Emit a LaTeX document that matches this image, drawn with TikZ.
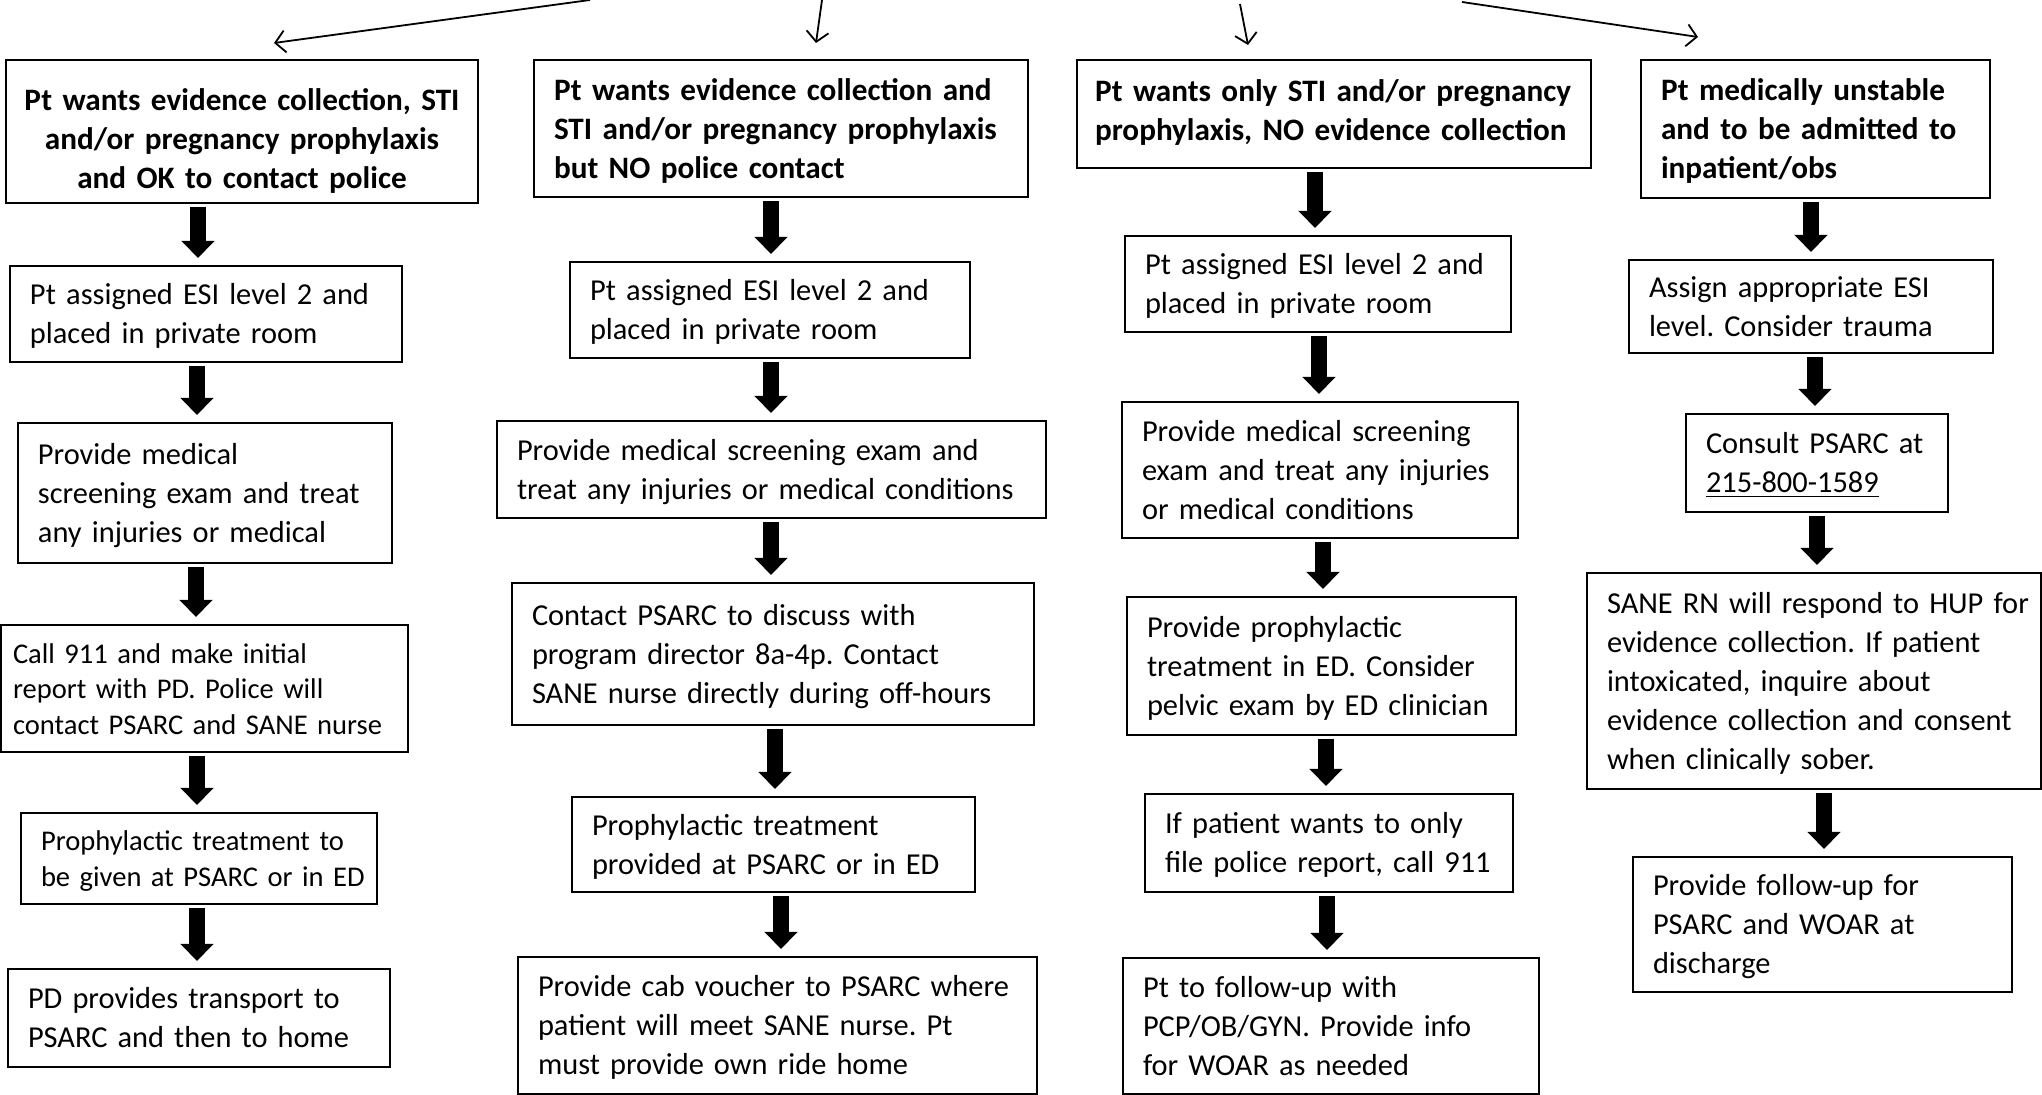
\documentclass[tikz,border=0pt]{standalone}
\usepackage{fontspec}
\setmainfont{Carlito}
\usetikzlibrary{arrows.meta}
\frenchspacing

\begin{document}
\begin{tikzpicture}[
  x=0.5pt, y=-0.5pt,
  struts/.style 2 args={
    execute at begin node={\hyphenpenalty=10000\exhyphenpenalty=10000\rule{0pt}{#1}},
    execute at end node={\rule[-#2]{0pt}{0pt}}},
  pbox/.style={draw, line width=1pt, anchor=north west, align=left,
               inner xsep=10pt, inner ysep=0pt, outer sep=0pt,
               font=\fontsize{15.2}{19.5}\selectfont, struts={14.5pt}{4.1pt}},
  hbox/.style={pbox, font=\fontsize{15.6}{19.5}\selectfont\bfseries, struts={14.85pt}{4.2pt}},
  sbox/.style={pbox, font=\fontsize{14.27}{17.9}\selectfont, struts={13.6pt}{3.85pt}},
  blk/.style={line width=8pt, -{Triangle[length=8.5pt, width=16pt]},
              shorten <=2pt, shorten >=4pt},
  harr/.style={line width=0.9pt, -{Straight Barb[length=5pt, width=11pt]}}
]
  \useasboundingbox (0,0) rectangle (2042,1095);

  % - Hang tren: bon truong hop -
  \node[hbox, align=center, inner xsep=8pt, text width=220pt, minimum height=71.5pt, struts={22.6pt}{4.2pt}] (police) at (6,60)
    {Pt wants evidence collection, STI\\and/or pregnancy prophylaxis\\and OK to contact police};
  \node[hbox, text width=227pt, minimum height=68.5pt] (nopol) at (534,60)
    {Pt wants evidence collection and\\STI and/or pregnancy prophylaxis\\but NO police contact};
  \node[hbox, inner xsep=9pt, text width=239pt, minimum height=54pt, struts={14.85pt}{7.4pt}] (only) at (1077,60)
    {Pt wants only STI and/or pregnancy\\prophylaxis, NO evidence collection};
  \node[hbox, text width=154.5pt, minimum height=69pt] (unst) at (1641,60)
    {Pt medically unstable\\and to be admitted to\\inpatient/obs};

  % - Cot 1 -
  \node[pbox, text width=176pt, minimum height=48pt] (pesi) at (10,266)
    {Pt assigned ESI level 2 and\\placed in private room};
  \node[pbox, text width=167pt, minimum height=70pt] (pexam) at (18,423)
    {Provide medical\\screening exam and treat\\any injuries or medical};
  \node[sbox, inner xsep=6pt, text width=191.5pt, minimum height=63.5pt] (pcall) at (1,625)
    {Call 911 and make initial\\report with PD. Police will\\contact PSARC and SANE nurse};
  \node[sbox, text width=158pt, minimum height=45.5pt] (pproph) at (21,813)
    {Prophylactic treatment to\\\mbox{be given at PSARC or in ED}};
  \node[pbox, text width=171pt, minimum height=49pt] (ptrans) at (8,969)
    {PD provides transport to\\PSARC and then to home};

  % - Cot 2 -
  \node[pbox, text width=180pt, minimum height=48pt] (nesi) at (570,262)
    {Pt assigned ESI level 2 and\\placed in private room};
  \node[pbox, text width=254.5pt, minimum height=48.5pt] (nexam) at (497,421)
    {Provide medical screening exam and\\treat any injuries or medical conditions};
  \node[pbox, text width=241pt, minimum height=71pt] (ncontact) at (512,583)
    {Contact PSARC to discuss with\\program director 8a-4p. Contact\\SANE nurse directly during off-hours};
  \node[pbox, text width=181.5pt, minimum height=47.5pt] (nproph) at (572,797)
    {Prophylactic treatment\\provided at PSARC or in ED};
  \node[pbox, text width=239.5pt, minimum height=68.5pt] (ncab) at (518,957)
    {Provide cab voucher to PSARC where\\patient will meet SANE nurse. Pt\\must provide own ride home};

  % - Cot 3 -
  \node[pbox, text width=173pt, minimum height=48pt] (oesi) at (1125,236)
    {Pt assigned ESI level 2 and\\placed in private room};
  \node[pbox, text width=178pt, minimum height=68pt] (oexam) at (1122,402)
    {Provide medical screening\\exam and treat any injuries\\or medical conditions};
  \node[pbox, text width=174.5pt, minimum height=69pt] (oproph) at (1127,597)
    {Provide prophylactic\\treatment in ED. Consider\\pelvic exam by ED clinician};
  \node[pbox, text width=164pt, minimum height=49pt] (oreport) at (1145,794)
    {If patient wants to only\\file police report, call 911};
  \node[pbox, text width=188pt, minimum height=68pt] (ofollow) at (1123,958)
    {Pt to follow-up with\\PCP/OB/GYN. Provide info\\for WOAR as needed};

  % - Cot 4 -
  \node[pbox, text width=162pt, minimum height=46.5pt] (uesi) at (1629,260)
    {Assign appropriate ESI\\level. Consider trauma};
  \node[pbox, text width=111pt, minimum height=49pt] (upsarc) at (1686,414)
    {Consult PSARC at\\\underline{215-800-1589}};
  \node[pbox, text width=207pt, minimum height=108pt] (usane) at (1587,573)
    {\mbox{SANE RN will respond to HUP for}\\evidence collection. If patient\\intoxicated, inquire about\\evidence collection and consent\\when clinically sober.};
  \node[pbox, text width=169.5pt, minimum height=67.5pt] (ufollow) at (1633,857)
    {Provide follow-up for\\PSARC and WOAR at\\discharge};

  % - Mui ten tren -
  \coordinate (src1) at (590,0);
  \coordinate (src2) at (822,0);
  \coordinate (src3) at (1240,4);
  \coordinate (src4) at (1462,2);
  \draw[harr] (src1) -- ([xshift=16pt, yshift=8.5pt]police.north);
  \draw[harr] (src2) -- ([xshift=17.5pt, yshift=8.5pt]nopol.north);
  \draw[harr] (src3) -- ([xshift=-43pt, yshift=7.5pt]only.north);
  \draw[harr] (src4) -- ([xshift=-58.75pt, yshift=11.5pt]unst.north);

  % - Mui ten dam -
  \draw[blk] (police.south -| 198,0) -- (pesi.north -| 198,0);
  \draw[blk] (pesi.south -| 197,0)   -- (pexam.north -| 197,0);
  \draw[blk] (pexam.south -| 196,0)  -- (pcall.north -| 196,0);
  \draw[blk] (pcall.south -| 197,0)  -- (pproph.north -| 197,0);
  \draw[blk] (pproph.south -| 197,0) -- (ptrans.north -| 197,0);

  \draw[blk] (nopol.south -| 771,0)    -- (nesi.north -| 771,0);
  \draw[blk] (nesi.south -| 771,0)     -- (nexam.north -| 771,0);
  \draw[blk] (nexam.south -| 771,0)    -- (ncontact.north -| 771,0);
  \draw[blk] (ncontact.south -| 775,0) -- (nproph.north -| 775,0);
  \draw[blk] (nproph.south -| 781,0)   -- (ncab.north -| 781,0);

  \draw[blk] (only.south -| 1315,0)    -- (oesi.north -| 1315,0);
  \draw[blk] (oesi.south -| 1319,0)    -- (oexam.north -| 1319,0);
  \draw[blk] (oexam.south -| 1323,0)   -- (oproph.north -| 1323,0);
  \draw[blk] (oproph.south -| 1326,0)  -- (oreport.north -| 1326,0);
  \draw[blk] (oreport.south -| 1327,0) -- (ofollow.north -| 1327,0);

  \draw[blk] (unst.south -| 1811,0)   -- (uesi.north -| 1811,0);
  \draw[blk] (uesi.south -| 1815,0)   -- (upsarc.north -| 1815,0);
  \draw[blk] (upsarc.south -| 1817,0) -- (usane.north -| 1817,0);
  \draw[blk] (usane.south -| 1824,0)  -- (ufollow.north -| 1824,0);
\end{tikzpicture}
\end{document}
